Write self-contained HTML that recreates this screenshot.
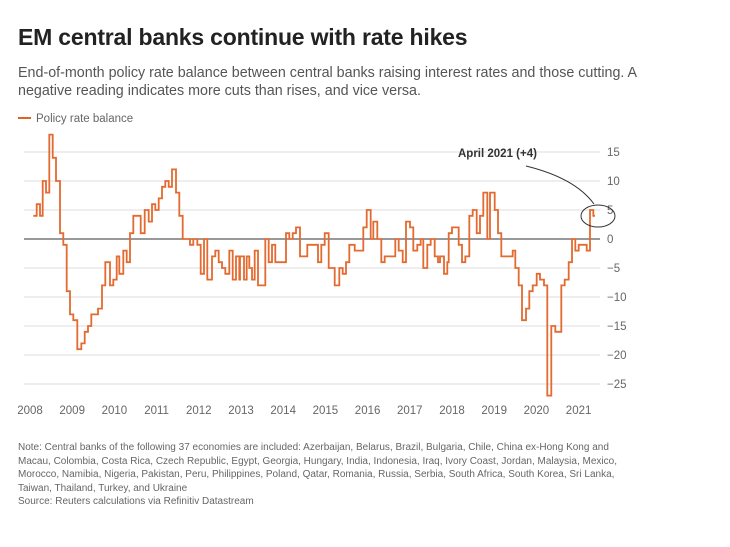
<!DOCTYPE html>
<html><head><meta charset="utf-8"><style>
body{margin:0;background:#fff;font-family:"Liberation Sans",sans-serif;width:730px;height:547px;overflow:hidden;position:relative}
.t{position:absolute;left:18px;top:24px;font-size:23px;font-weight:bold;color:#222;letter-spacing:-0.2px}
.s{position:absolute;left:18px;top:64px;font-size:14.3px;line-height:18px;color:#555;width:680px}
.n{position:absolute;left:18px;top:441px;font-size:10px;line-height:13.5px;color:#666;width:615px}
</style></head><body>
<div class="t">EM central banks continue with rate hikes</div>
<div class="s">End-of-month policy rate balance between central banks raising interest rates and those cutting. A<br>negative reading indicates more cuts than rises, and vice versa.</div>
<svg width="730" height="547" style="position:absolute;left:0;top:0" font-family="Liberation Sans, sans-serif">
<line x1="18" y1="118" x2="31" y2="118" stroke="#e0622a" stroke-width="2"/>
<text x="36" y="122" font-size="11.5" fill="#666">Policy rate balance</text>
<g id="grid" stroke="#ddd" stroke-width="1"></g>
<line x1="24" y1="239" x2="600" y2="239" stroke="#333" stroke-width="1"/>
<g id="yl" font-size="11.5" fill="#666"></g>
<g id="xl" font-size="11.5" fill="#666" text-anchor="middle"></g>
<path id="p" fill="none" stroke="#e36a30" stroke-width="1.8"/>
<ellipse cx="598" cy="216" rx="17" ry="11" fill="none" stroke="#333" stroke-width="1"/>
<path d="M526 166 Q575 178 594 204" fill="none" stroke="#333" stroke-width="1"/>
<text x="458" y="157" font-size="11.5" font-weight="bold" fill="#333">April 2021 (+4)</text>
</svg>
<div class="n">Note: Central banks of the following 37 economies are included: Azerbaijan, Belarus, Brazil, Bulgaria, Chile, China ex-Hong Kong and Macau, Colombia, Costa Rica, Czech Republic, Egypt, Georgia, Hungary, India, Indonesia, Iraq, Ivory Coast, Jordan, Malaysia, Mexico, Morocco, Namibia, Nigeria, Pakistan, Peru, Philippines, Poland, Qatar, Romania, Russia, Serbia, South Africa, South Korea, Sri Lanka, Taiwan, Thailand, Turkey, and Ukraine<br>Source: Reuters calculations via Refinitiv Datastream</div>
<script>
var ns="http://www.w3.org/2000/svg";
function Y(v){return 239-v*5.8;}
var g=document.getElementById('grid'),yl=document.getElementById('yl'),xl=document.getElementById('xl');
[15,10,5,-5,-10,-15,-20,-25].forEach(function(v){var l=document.createElementNS(ns,'line');l.setAttribute('x1',24);l.setAttribute('x2',600);l.setAttribute('y1',Y(v));l.setAttribute('y2',Y(v));g.appendChild(l);});
[15,10,5,0,-5,-10,-15,-20,-25].forEach(function(v){var t=document.createElementNS(ns,'text');t.setAttribute('x',607);t.setAttribute('y',Y(v)+4);t.textContent=v<0?'\u2212'+(-v):v;yl.appendChild(t);});
for(var i=0;i<14;i++){var t=document.createElementNS(ns,'text');t.setAttribute('x',30+42.2*i);t.setAttribute('y',414);t.textContent=2008+i;xl.appendChild(t);}
var a=[[33.3,4],[36.7,6],[40,4],[42.7,10],[46,8],[49.3,18],[52.7,14],[56,10],[60,1],[63.3,-1],[66.7,-9],[70,-13],[73.3,-14],[77.3,-19],[81.3,-18],[84.7,-16],[88,-15],[91.3,-13],[98,-12],[102,-8],[105.3,-4],[110,-8],[113.3,-7],[116.7,-3],[119.3,-6],[123.3,-2],[126.7,-4],[130,1],[133.3,4],[140.7,1],[144.7,5],[148.7,3],[152,6],[155.3,5],[158.7,7],[162,9],[165.3,10],[168.7,9],[172,12],[176,8],[179.3,4],[182.7,0],[190,-1],[193.3,0],[197.3,-1],[200.7,-6],[204,0],[207.3,-7],[212,-3],[215.3,-2],[218.7,-4],[222,-5],[225.3,-6],[229.3,-2],[232.7,-7],[236,-3],[239.3,-7],[240,-3]];
var b=[[12,-7],[20,-3],[28,-5],[36,-7],[44,-2],[54,-8],[76,0],[86,-4],[96,-1],[106,-4],[138,1],[148,0],[158,1],[168,2],[180,-3],[202,-1],[234,-4],[244,-1],[254,1],[266,-5],[284,-8],[298,-5],[308,-6],[318,-4],[328,-1],[344,-2],[370,2],[380,5],[392,0],[400,3],[412,0],[424,-4],[434,-3],[466,0],[476,-2],[488,-4],[498,3],[510,2],[520,-2],[532,-1],[542,0],[550,-5],[562,-1],[572,0],[584,-3],[594,-4]];
b.forEach(function(p){a.push([240+p[0]/3,p[1]]);});
var c=[[0,-3],[12,-6],[22,-4],[26,1],[36,2],[56,-1],[66,-4],[76,-3],[88,4],[98,5],[110,1],[120,4],[130,8],[142,0],[150,8],[164,5],[174,1],[184,-3],[218,-2],[226,-5],[236,-8],[246,-14],[258,-12],[268,-9],[278,-8],[290,-6],[300,-7],[312,-8],[322,-27],[334,-15],[346,-16],[364,-8],[374,-7],[386,-4],[396,0],[406,-2],[416,-1],[440,-2],[450,5],[460,4]];
c.forEach(function(p){a.push([440+p[0]/3,p[1]]);});
var d='M'+a[0][0]+' '+Y(a[0][1]);
for(var i=1;i<a.length;i++){d+=' H'+a[i][0].toFixed(1)+' V'+Y(a[i][1]).toFixed(1);}
d+=' H595';
document.getElementById('p').setAttribute('d',d);
</script>
</body></html>
